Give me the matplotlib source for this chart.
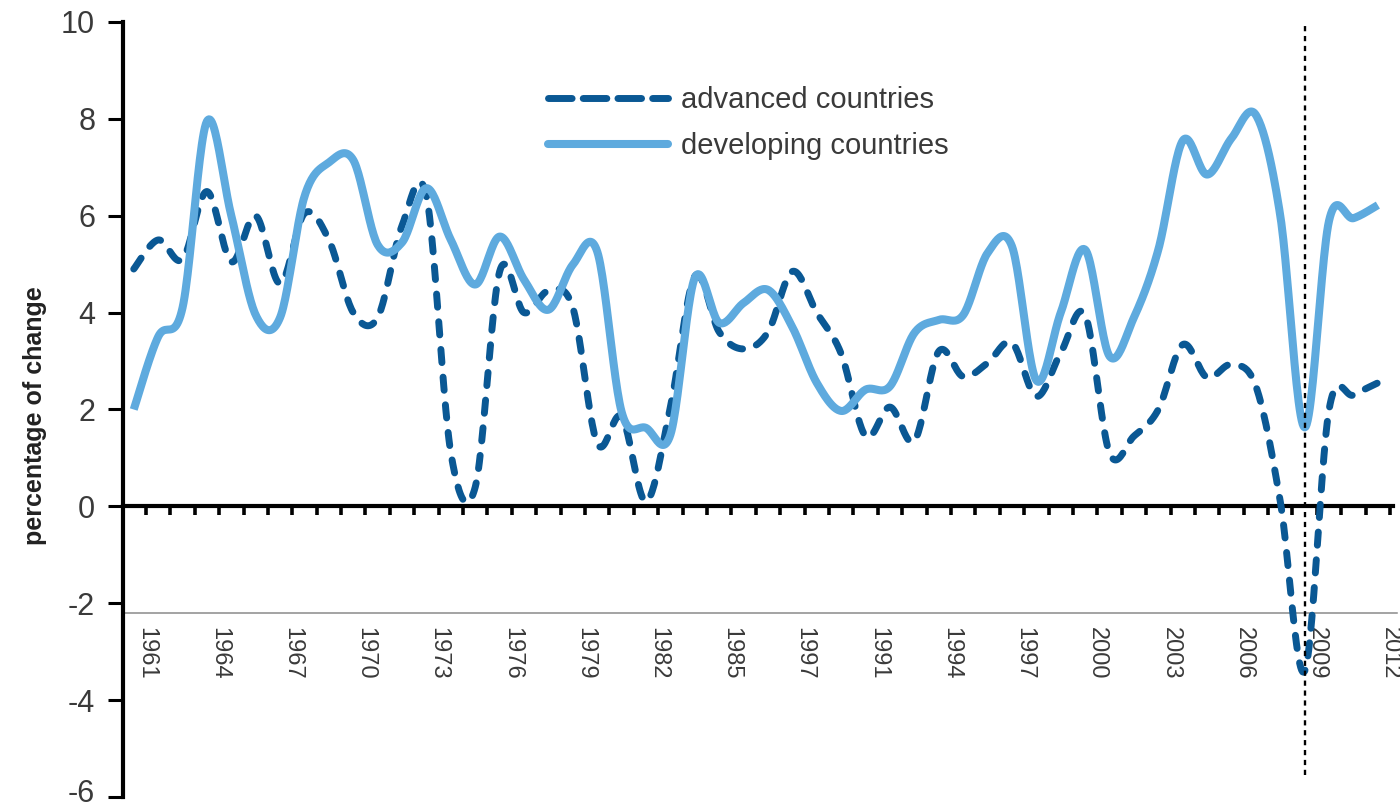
import numpy as np
import matplotlib
matplotlib.use("Agg")
import matplotlib.pyplot as plt
import matplotlib.transforms as mtransforms
from matplotlib.lines import Line2D

plt.rcParams['font.family'] = ['Liberation Sans', 'DejaVu Sans']
plt.rcParams['axes.unicode_minus'] = False

# annual growth, percentage of change
years = list(range(1961, 2013))
advanced = [4.9, 5.5, 5.1, 6.5, 5.05, 6.0, 4.6, 6.05, 5.5, 4.0,
            3.9, 5.8, 6.4, 1.1, 0.4, 4.85, 4.0, 4.45, 4.1, 1.3,
            1.85, 0.1, 2.05, 4.75, 3.6, 3.25, 3.6, 4.85, 4.0, 3.15,
            1.45, 2.05, 1.35, 3.2, 2.68, 2.96, 3.38, 2.27, 3.17, 3.95,
            1.1, 1.45, 2.0, 3.34, 2.66, 2.93, 2.48, 0.1, -3.4, 2.0,
            2.3, 2.55]
developing = [2.0, 3.5, 4.1, 7.95, 6.0, 3.95, 3.9, 6.4, 7.1, 7.15,
              5.4, 5.45, 6.57, 5.5, 4.58, 5.57, 4.68, 4.06, 4.99, 5.26,
              1.95, 1.62, 1.48, 4.72, 3.79, 4.2, 4.47, 3.7, 2.55, 1.97,
              2.41, 2.48, 3.58, 3.85, 3.95, 5.23, 5.37, 2.6, 4.0, 5.3,
              3.1, 3.9, 5.3, 7.55, 6.85, 7.6, 8.08, 6.0, 1.63, 5.9,
              5.95, 6.22]
# every third tick is labelled (the original has "1997" where 1988 should be)
tick_labels = ["1961", "1964", "1967", "1970", "1973", "1976", "1979", "1982",
               "1985", "1997", "1991", "1994", "1997", "2000", "2003", "2006",
               "2009", "2012"]
crisis_year = 2009

DARK = "#0a5894"
LIGHT = "#5eaade"
TXT = "#3a3a3a"


def smooth(x, y, n=24):
    # excel-style smoothed line: catmull-rom segments drawn as cubic beziers
    x = np.asarray(x, float)
    y = np.asarray(y, float)
    px = np.concatenate([[x[0]], x, [x[-1]]])
    py = np.concatenate([[y[0]], y, [y[-1]]])
    xs, ys = [], []
    for k in range(len(x) - 1):
        t = np.linspace(0, 1, n, endpoint=(k == len(x) - 2))[:, None]
        P = []
        for p in (px, py):
            P.append([p[k + 1], p[k + 1] + (p[k + 2] - p[k]) / 6,
                      p[k + 2] - (p[k + 3] - p[k + 1]) / 6, p[k + 2]])
        P = np.array(P).T
        b = ((1 - t) ** 3 * P[0] + 3 * (1 - t) ** 2 * t * P[1]
             + 3 * (1 - t) * t ** 2 * P[2] + t ** 3 * P[3])
        xs.append(b[:, 0])
        ys.append(b[:, 1])
    return np.concatenate(xs), np.concatenate(ys)


fig = plt.figure(figsize=(14, 8.06), dpi=100)
ax = fig.add_axes([123 / 1400, 9 / 806, 1270 / 1400, 775 / 806])

pos = np.arange(len(years))

ax.axhline(-2.2, color="#8a8a8a", lw=1.1, xmax=1.003, clip_on=False, zorder=1)
ax.axvline(years.index(crisis_year), ymin=0.029, ymax=1.0, color="black", lw=1.7,
           linestyle=(0, (2.2, 2.0)), zorder=5)

sx, sy = smooth(pos, advanced)
ax.plot(sx, sy, color=DARK, lw=5.0, linestyle=(0, (1.9, 2.1)),
        dash_capstyle="round", zorder=3)
sx, sy = smooth(pos, developing)
ax.plot(sx, sy, color=LIGHT, lw=5.8, solid_capstyle="butt", zorder=4)

ax.set_xlim(-0.44, 51.62)
ax.set_ylim(-6, 10)

for s in ["top", "right"]:
    ax.spines[s].set_visible(False)
ax.spines["left"].set_linewidth(3)
ax.spines["bottom"].set_position(("data", 0))
ax.spines["bottom"].set_linewidth(3)

ax.set_yticks(range(-6, 11, 2))
ax.tick_params(axis="y", length=11, width=2.2, direction="out", pad=9,
               labelsize=22, labelcolor=TXT)
for lab in ax.get_yticklabels():
    lab.set_verticalalignment("center_baseline")
# keep the bottom label (-6) inside the canvas
bottom_lab = ax.get_yticklabels()[0]
bottom_lab.set_transform(bottom_lab.get_transform()
                         + mtransforms.ScaledTranslation(0, 5 / 72, fig.dpi_scale_trans))

labels = [""] * len(years)
for j, lab in enumerate(tick_labels):
    labels[3 * j] = lab
ax.set_xticks(pos + 0.5)
ax.set_xticklabels(labels, rotation=270)
ax.tick_params(axis="x", length=6.5, width=2.6, direction="out", pad=80,
               labelsize=17, labelcolor=TXT)

fig.text(35 / 1400, 1 - 416 / 806, "percentage of change", rotation=90,
         fontsize=18, fontweight="bold", ha="center", va="center", color="#222222")

handles = [Line2D([], [], color=DARK, lw=5.0, linestyle=(0, (3.4, 1.6)),
                  dash_capstyle="round"),
           Line2D([], [], color=LIGHT, lw=5.8, solid_capstyle="round")]
leg = ax.legend(handles, ["advanced countries", "developing countries"],
                loc="upper left", bbox_to_anchor=(548 / 1400, 1 - 86 / 806),
                bbox_transform=fig.transFigure, frameon=False, borderpad=0,
                borderaxespad=0, handlelength=4.1, handletextpad=0.45,
                labelspacing=0.62, fontsize=21)
for t in leg.get_texts():
    t.set_color(TXT)

fig.savefig("out.png", dpi=100)
